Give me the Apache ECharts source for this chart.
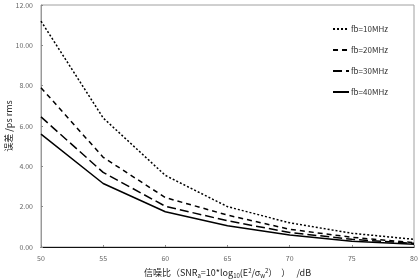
<!DOCTYPE html>
<html>
<head>
<meta charset="utf-8">
<script src="https://cdn.jsdelivr.net/npm/echarts@6/dist/echarts.min.js"></script>
<style>
  html, body { margin: 0; padding: 0; background: #fff; }
  #chart { width: 420px; height: 279px; }
</style>
</head>
<body>
<div id="chart"></div>
<script>
// x values (SNR, dB)
const snr = [50, 55, 60, 65, 70, 75, 80];

// error (ps rms) per bandwidth
const fb10 = [11.2, 6.4, 3.55, 2.0, 1.2, 0.68, 0.38];
const fb20 = [7.9, 4.45, 2.45, 1.58, 0.88, 0.48, 0.22];
const fb30 = [6.45, 3.7, 2.02, 1.3, 0.72, 0.38, 0.18];
const fb40 = [5.6, 3.15, 1.75, 1.05, 0.6, 0.28, 0.14];

const seriesNames = ['fb=10MHz', 'fb=20MHz', 'fb=30MHz', 'fb=40MHz'];
const dashTypes = [[2, 2], [5, 4], [9, 4], 'solid'];

const FONT = '"Noto Sans CJK SC", "Noto Sans", sans-serif';

function toPairs(values) {
    return snr.map((x, i) => [x, values[i]]);
}

const allValues = [fb10, fb20, fb30, fb40];

const chart = echarts.init(document.getElementById('chart'), null, {renderer: 'canvas'});

const series = allValues.map((vals, i) => ({
    name: seriesNames[i],
    type: 'line',
    data: toPairs(vals),
    symbol: 'none',
    lineStyle: {color: '#000', width: 1.5, type: dashTypes[i]},
    itemStyle: {color: '#000'},
    z: 5 - i
}));

const option = {
    animation: false,
    backgroundColor: '#fff',
    textStyle: {fontFamily: FONT},
    grid: {
        left: 41, top: 5, right: 6, bottom: 32,
        outerBoundsMode: 'none',
        containLabel: false,
        show: true, borderColor: '#a0a0a0', borderWidth: 1
    },
    legend: {
        orient: 'vertical',
        right: 27,
        top: 20,
        itemWidth: 16,
        itemHeight: 8,
        itemGap: 13,
        itemStyle: {opacity: 0},
        textStyle: {fontSize: 8, color: '#333', fontFamily: FONT, padding: [0, 0, 0, -3]},
        data: seriesNames
    },
    xAxis: {
        type: 'value',
        min: 50, max: 80, interval: 5,
        name: '{t|信噪比（SNR}{sub|a}{t|=10*log}{sub|10}{t|(E}{sup|2}{t|/σ}{sub|w}{sup|2}{t|）  ）   /dB}',
        nameLocation: 'middle',
        nameGap: 18,
        nameTextStyle: {
            rich: {
                t: {fontSize: 9, color: '#222', fontFamily: FONT, lineHeight: 14},
                sub: {fontSize: 6, color: '#222', fontFamily: FONT, lineHeight: 14, padding: [6, 0, 0, 0]},
                sup: {fontSize: 6, color: '#222', fontFamily: FONT, lineHeight: 14, padding: [0, 0, 5, 0]}
            }
        },
        axisLine: {show: true, lineStyle: {color: '#111', width: 1.2}},
        axisTick: {show: true, inside: true, length: 2, lineStyle: {color: '#888'}},
        axisLabel: {fontSize: 7, color: '#666', margin: 8},
        splitLine: {show: false}
    },
    yAxis: {
        type: 'value',
        min: 0, max: 12, interval: 2,
        name: '误差 /ps rms',
        nameLocation: 'middle',
        nameRotate: 90,
        nameGap: 28,
        nameMoveOverlap: false,
        nameTextStyle: {fontSize: 9, color: '#222', fontFamily: FONT},
        axisLine: {show: true, lineStyle: {color: '#999', width: 1}},
        axisTick: {show: true, inside: true, length: 2, lineStyle: {color: '#888'}},
        axisLabel: {fontSize: 7, color: '#666', margin: 8, formatter: v => v.toFixed(2)},
        splitLine: {show: false}
    },
    series: series
};

chart.setOption(option);
</script>
</body>
</html>
